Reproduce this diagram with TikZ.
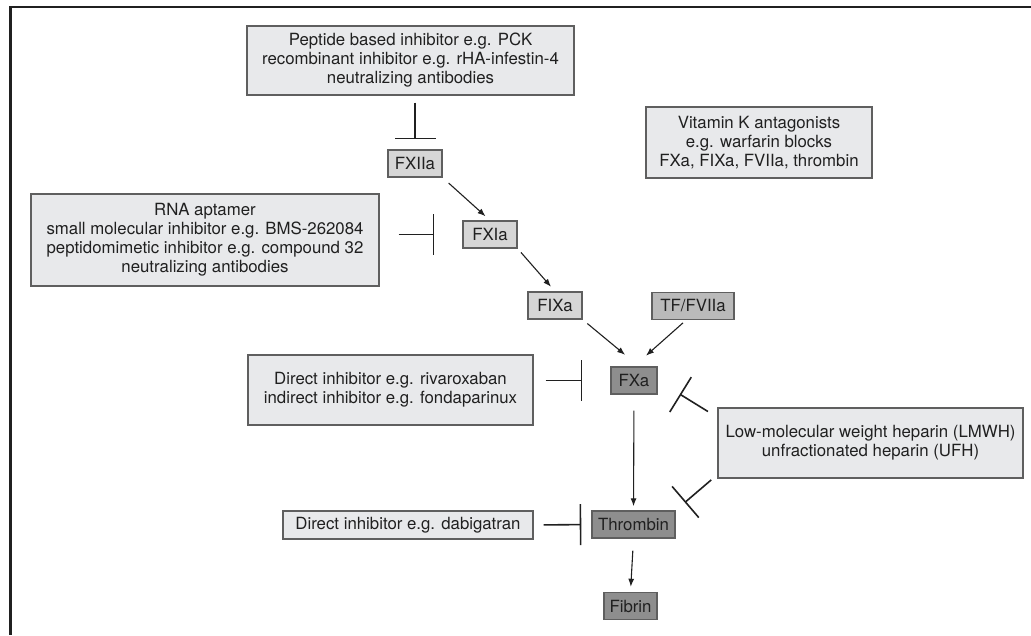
\documentclass[tikz,border=0pt]{standalone}
\usepackage{fontspec}
\setmainfont{TeX Gyre Heros}
\usetikzlibrary{arrows.meta}
\definecolor{drugfill}{RGB}{232,233,235}
\definecolor{lightfactor}{RGB}{214,214,214}
\definecolor{midfactor}{RGB}{186,186,186}
\definecolor{darkfactor}{RGB}{142,142,142}
\definecolor{edgegray}{RGB}{95,95,95}
\definecolor{ink}{RGB}{32,32,32}
\begin{document}
\begin{tikzpicture}[x=1pt, y=-1pt, every node/.style = {shape=rectangle, draw=edgegray, line width=1.4pt, align=center,
                        inner sep=0pt, text=ink, font=\fontsize{16.8}{19}\selectfont},
    drug/.style = {fill=drugfill},
    factor/.style = {fill=lightfactor, minimum height=27pt},
    activates/.style = {-{Latex[length=8pt, width=6pt]}, line width=1.1pt, draw=ink},
    blocks/.style = {-{Bar[width=41pt]}, line width=1.6pt, draw=ink}]
    \useasboundingbox (0,0) rectangle (1031,635);
    \draw[line width=2.4pt, draw=ink] (1031,7) -- (10.5,7) -- (10.5,635);
    \node[drug, minimum width=327pt, minimum height=69pt] (pck) at (410.5,60.5)
        {Peptide based inhibitor e.g. PCK\\recombinant inhibitor e.g. rHA-infestin-4\\neutralizing antibodies};
    \node[drug, minimum width=226pt, minimum height=71pt] (vka) at (759,142.5)
        {Vitamin K antagonists\\e.g. warfarin blocks\\FXa, FIXa, FVIIa, thrombin};
    \node[drug, minimum width=348pt, minimum height=92pt] (rna) at (205,240)
        {RNA aptamer\\small molecular inhibitor e.g. BMS-262084\\peptidomimetic inhibitor e.g. compound 32\\neutralizing antibodies};
    \node[drug, minimum width=285pt, minimum height=70pt] (riva) at (390.5,390)
        {Direct inhibitor e.g. rivaroxaban\\indirect inhibitor e.g. fondaparinux};
    \node[drug, minimum width=305pt, minimum height=70pt] (hep) at (870.5,443)
        {Low-molecular weight heparin (LMWH)\\unfractionated heparin (UFH)};
    \node[drug, minimum width=250pt, minimum height=28pt] (dabi) at (408,525) {Direct inhibitor e.g. dabigatran};
    \node[factor, minimum width=54pt] (fxii) at (415,163.5) {FXIIa};
    \node[factor, minimum width=54pt] (fxi) at (490,234.5) {FXIa};
    \node[factor, minimum width=54pt] (fix) at (555,305.5) {FIXa};
    \node[factor, fill=midfactor, minimum width=82pt] (tf) at (693,306) {TF/FVIIa};
    \node[factor, fill=darkfactor, minimum width=46pt] (fx) at (634,380.5) {FXa};
    \node[factor, fill=darkfactor, minimum width=83pt] (thr) at (633.5,524.5) {Thrombin};
    \node[factor, fill=darkfactor, minimum width=53pt] (fib) at (630.5,606) {Fibrin};
    \draw[activates, shorten <=8pt, shorten >=6pt] (fxii.south east) -- (fxi.north);
    \draw[activates, shorten <=5pt, shorten >=6pt] (fxi.south east) -- (fix.north);
    \draw[activates, shorten <=6pt, shorten >=18pt] (fix.south east) -- ([xshift=5pt]fx.north);
    \draw[activates, shorten <=4pt, shorten >=16pt] ([xshift=-7pt]tf.south) -- (fx.north);
    \draw[activates, shorten <=16pt, shorten >=4pt] (fx.south) -- (thr.north);
    \draw[activates, shorten <=12pt, shorten >=5pt] (thr.south) -- (fib.north);
    \draw[blocks, shorten <=7pt, shorten >=10pt] (pck.south -| fxii.north) -- (fxii.north);
    \draw[blocks, shorten <=19pt, shorten >=28pt] (rna.east |- fxi.west) -- (fxi.west);
    \draw[blocks, shorten <=12pt, shorten >=28pt] (riva.east |- fx.west) -- (fx.west);
    \draw[blocks, shorten <=10pt, shorten >=10pt] (dabi.east) -- (thr.west);
    \draw[blocks, shorten <=11pt, shorten >=26pt] ([yshift=-10pt]hep.north west) -- (fx.east);
    \draw[blocks, shorten <=8pt, shorten >=12pt] ([yshift=4pt]hep.south west) -- (thr.north east);
\end{tikzpicture}
\end{document}
